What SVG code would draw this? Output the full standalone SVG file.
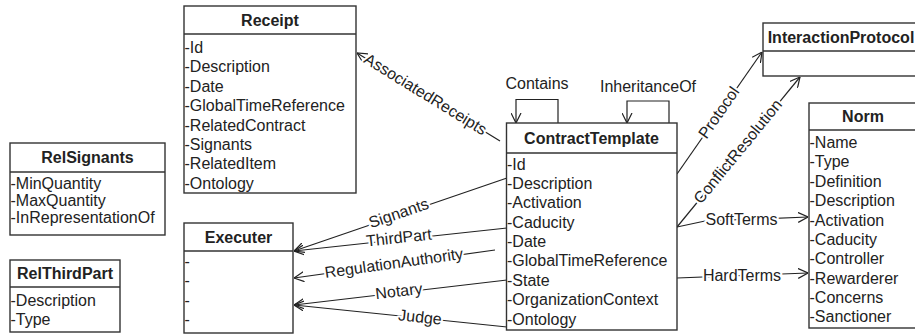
<svg xmlns="http://www.w3.org/2000/svg" width="915" height="334" viewBox="0 0 915 334">
<defs>
<marker id="a" viewBox="0 0 10 11" refX="10" refY="5.5" markerWidth="10" markerHeight="11" markerUnits="userSpaceOnUse" orient="auto"><path d="M0,0.5 L10,5.5 L0,10.5" fill="none" stroke="#222" stroke-width="1.2"/></marker>
</defs>
<style>
.box{fill:#fff;stroke:#333;stroke-width:1.4}
.dv{stroke:#333;stroke-width:1.4}
text{font-family:"Liberation Sans",Arial,sans-serif;font-size:16px;fill:#222}
.h{font-weight:bold;text-anchor:middle}
.c{stroke:#222;stroke-width:1.2;fill:none;marker-end:url(#a)}
.l{text-anchor:middle;stroke:#fff;stroke-width:4;stroke-linejoin:round;paint-order:stroke}
</style>
<rect width="915" height="334" fill="#fff"/>

<g id="connectors">
<path class="c" d="M500,141 L357,53"/>
<path class="c" d="M558,123 V99.5 H516 V123"/>
<path class="c" d="M669,123 V101 H627 V123"/>
<path class="c" d="M677,174 L762,52"/>
<path class="c" d="M677,227 L800,77"/>
<path class="c" d="M677,227 L705,221 L808,217"/>
<path class="c" d="M677,278 L808,273"/>
<path class="c" d="M507,178 L294,251"/>
<path class="c" d="M507,228 L294,251"/>
<path class="c" d="M495,250 L294,278"/>
<path class="c" d="M507,280 L294,305"/>
<path class="c" d="M507,327 L294,305"/>
<text class="l" transform="translate(425,95) rotate(31.6)" y="4.5">AssociatedReceipts</text>
<text x="537" y="88.8" text-anchor="middle">Contains</text>
<text x="648" y="92" text-anchor="middle">InheritanceOf</text>
<text class="l" transform="translate(719.5,113) rotate(-55.1)" y="4.5">Protocol</text>
<text class="l" transform="translate(738.5,152) rotate(-50.65)" y="4.5">ConflictResolution</text>
<text class="l" x="741.5" y="225">SoftTerms</text>
<text class="l" x="742" y="280.5">HardTerms</text>
<text class="l" transform="translate(399,214) rotate(-18.92)" y="4.5">Signants</text>
<text class="l" transform="translate(399,238.5) rotate(-6.16)" y="4.5">ThirdPart</text>
<text class="l" transform="translate(394,264) rotate(-7.93)" y="4.5">RegulationAuthority</text>
<text class="l" transform="translate(399,292) rotate(-6.69)" y="4.5">Notary</text>
<text class="l" transform="translate(420,318) rotate(5.9)" y="4.5">Judge</text>
</g>

<g id="receipt">
<rect class="box" x="184" y="6" width="172" height="187"/>
<line class="dv" x1="184" y1="34" x2="356" y2="34"/>
<text class="h" x="270" y="26">Receipt</text>
<text x="184.5" y="53">-Id</text>
<text x="184.5" y="72.4">-Description</text>
<text x="184.5" y="91.7">-Date</text>
<text x="184.5" y="111.1">-GlobalTimeReference</text>
<text x="184.5" y="130.5">-RelatedContract</text>
<text x="184.5" y="149.9">-Signants</text>
<text x="184.5" y="169.2">-RelatedItem</text>
<text x="184.5" y="188.6">-Ontology</text>
</g>

<g id="contracttemplate">
<rect class="box" x="506.5" y="123" width="170.5" height="207"/>
<line class="dv" x1="506.5" y1="153" x2="677" y2="153"/>
<text class="h" x="591.5" y="143.5">ContractTemplate</text>
<text x="507" y="169.5">-Id</text>
<text x="507" y="188.9">-Description</text>
<text x="507" y="208.2">-Activation</text>
<text x="507" y="227.6">-Caducity</text>
<text x="507" y="247">-Date</text>
<text x="507" y="266.4">-GlobalTimeReference</text>
<text x="507" y="285.7">-State</text>
<text x="507" y="305.1">-OrganizationContext</text>
<text x="507" y="324.5">-Ontology</text>
</g>

<g id="interactionprotocol">
<rect class="box" x="763" y="23" width="156" height="53"/>
<line class="dv" x1="763" y1="51" x2="919" y2="51"/>
<text class="h" x="841" y="42.7">InteractionProtocol</text>
</g>

<g id="norm">
<rect class="box" x="809" y="103" width="108" height="225"/>
<line class="dv" x1="809" y1="130" x2="917" y2="130"/>
<text class="h" x="863" y="122.2">Norm</text>
<text x="809.5" y="148">-Name</text>
<text x="809.5" y="167.4">-Type</text>
<text x="809.5" y="186.7">-Definition</text>
<text x="809.5" y="206.1">-Description</text>
<text x="809.5" y="225.5">-Activation</text>
<text x="809.5" y="244.9">-Caducity</text>
<text x="809.5" y="264.2">-Controller</text>
<text x="809.5" y="283.6">-Rewarderer</text>
<text x="809.5" y="303">-Concerns</text>
<text x="809.5" y="322.3">-Sanctioner</text>
</g>

<g id="relsignants">
<rect class="box" x="10" y="143" width="155" height="92"/>
<line class="dv" x1="10" y1="172" x2="165" y2="172"/>
<text class="h" x="87.5" y="163">RelSignants</text>
<text x="10.5" y="189">-MinQuantity</text>
<text x="10.5" y="206">-MaxQuantity</text>
<text x="10.5" y="223">-InRepresentationOf</text>
</g>

<g id="relthirdpart">
<rect class="box" x="10" y="260" width="110" height="72"/>
<line class="dv" x1="10" y1="287" x2="120" y2="287"/>
<text class="h" x="65" y="279">RelThirdPart</text>
<text x="10.5" y="306">-Description</text>
<text x="10.5" y="325">-Type</text>
</g>

<g id="executer">
<rect class="box" x="184" y="223" width="109" height="110"/>
<line class="dv" x1="184" y1="251" x2="293" y2="251"/>
<text class="h" x="238.5" y="242.7">Executer</text>
<text x="184.5" y="266.6">-</text>
<text x="184.5" y="286.2">-</text>
<text x="184.5" y="305.8">-</text>
<text x="184.5" y="325.4">-</text>
</g>
</svg>
